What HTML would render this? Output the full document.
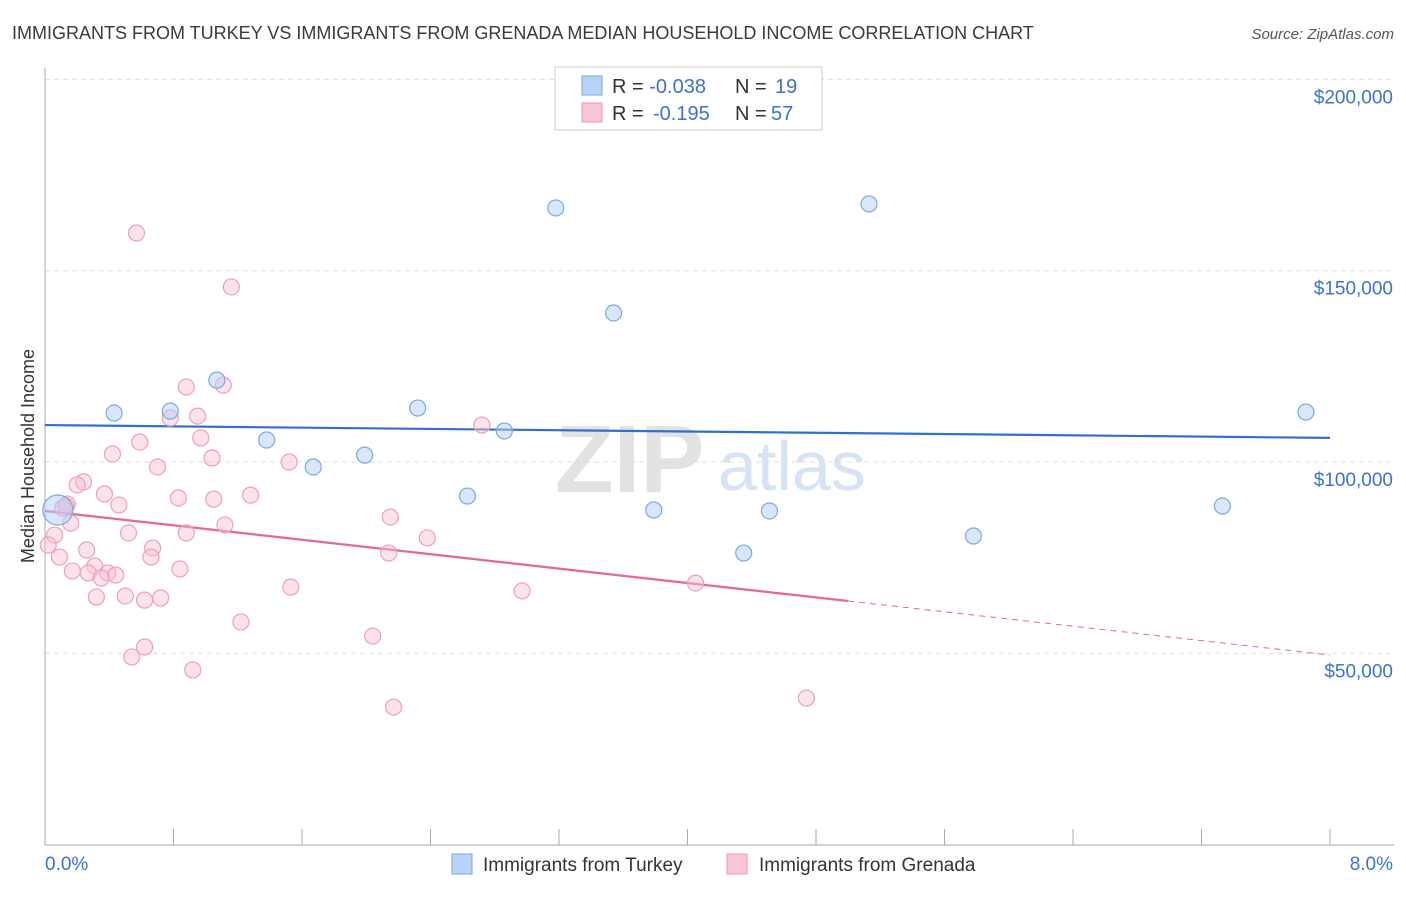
<!DOCTYPE html>
<html><head><meta charset="utf-8"><style>
body{margin:0;background:#fff;font-family:"Liberation Sans",sans-serif;}
svg text{font-family:"Liberation Sans",sans-serif;}
</style></head><body>
<svg id="chart" width="1406" height="892" xmlns="http://www.w3.org/2000/svg">
<text x="12" y="39" font-size="18" fill="#3a3a3a">IMMIGRANTS FROM TURKEY VS IMMIGRANTS FROM GRENADA MEDIAN HOUSEHOLD INCOME CORRELATION CHART</text>
<text x="1394" y="39" font-size="15" fill="#555" text-anchor="end" font-style="italic">Source: ZipAtlas.com</text>
<g>
<text x="555" y="492" font-size="96" fill="#e2e2e2" font-family="Liberation Serif" font-weight="bold">ZIP</text>
<text x="718" y="490" font-size="70" fill="#d6e3f3">atlas</text>
</g>
<g id="grid"></g>
<g id="axes"></g>
<g id="trend"></g>
<g id="pts"></g>
<text transform="translate(34,456) rotate(-90)" font-size="18" fill="#333" text-anchor="middle">Median Household Income</text>
<g>
<rect x="555" y="67" width="267" height="63" fill="#fff" stroke="#ccc"/>
<rect x="582" y="76" width="20" height="19" fill="#b8d3f5" stroke="#7aa6e0"/>
<rect x="582" y="103" width="20" height="19" fill="#f9c6d6" stroke="#ec95b2"/>
<text x="612" y="93" font-size="20" fill="#333">R = <tspan fill="#3b73cc">-0.038</tspan><tspan x="735">N = </tspan><tspan x="775" fill="#3b73cc">19</tspan></text>
<text x="612" y="120" font-size="20" fill="#333">R = <tspan x="653" fill="#3b73cc">-0.195</tspan><tspan x="735">N = </tspan><tspan x="771" fill="#3b73cc">57</tspan></text>
</g>
<g>
<rect x="452" y="854" width="20" height="20" fill="#b8d3f5" stroke="#7aa6e0"/>
<text x="483" y="871" font-size="19" fill="#333">Immigrants from Turkey</text>
<rect x="727" y="854" width="20" height="20" fill="#f9c6d6" stroke="#ec95b2"/>
<text x="759" y="871" font-size="19" fill="#333">Immigrants from Grenada</text>
</g>
</svg>
<script>
const yTicks=[50000,100000,150000,200000];
const yTickLabels=["$50,000","$100,000","$150,000","$200,000"];
const xEndLabels=["0.0%","8.0%"];
const turkeyX=[0.08,0.43,0.78,1.07,1.38,1.67,1.99,2.32,2.63,2.86,3.18,3.54,3.79,4.35,4.51,5.13,5.78,7.33,7.85];
const turkeyY=[87450,112800,113300,121400,105750,98700,101800,114100,91100,108100,166400,138950,87450,76200,87200,167450,80650,88500,113050];
const grenadaX=[0.57,1.16,0.88,1.11,0.78,0.95,0.97,0.59,0.42,1.04,1.52,0.70,0.24,0.20,0.37,0.83,1.05,1.28,0.46,0.14,0.11,0.16,1.12,0.52,0.88,2.15,2.38,0.06,0.02,0.26,0.67,0.09,0.66,2.14,0.84,0.17,0.31,0.27,0.39,0.44,0.35,1.53,2.97,4.05,0.32,0.50,0.62,0.72,1.22,2.04,0.62,0.54,0.92,2.17,4.74,2.72,0.13];
const grenadaY=[159850,145750,119600,120100,111500,112000,106300,105200,102100,101050,100000,98700,94800,94000,91650,90600,90300,91350,88750,89000,87950,84050,83550,81450,81450,85600,80150,80900,78300,77000,77500,75150,75150,76200,72050,71500,72800,71000,71000,70450,69700,67300,66300,68350,64700,64950,63900,64450,58200,54500,51650,49050,45650,35950,38300,109650,88500];
const turkeyTrend=[109650,106300];
const grenadaTrend=[87200,49550];
const grenadaSolidEnd=5.0;
const X=v=>45+v*1285/8;
const Y=v=>462-(v-100000)*191.3/50000;
const NS="http://www.w3.org/2000/svg";
function mk(tag,attrs,parent){const e=document.createElementNS(NS,tag);for(const k in attrs)e.setAttribute(k,attrs[k]);document.getElementById(parent).appendChild(e);return e;}
yTicks.forEach((t,i)=>{
 const l=mk('line',{x1:45,x2:1394,y1:Y(t),y2:Y(t),stroke:'#ddd','stroke-dasharray':'5,4'},'grid');
 
 
 const tx=mk('text',{x:1393,y:Y(t)+24,'font-size':19,fill:'#3b73cc','text-anchor':'end'},'grid');
 tx.textContent=yTickLabels[i];
 
 
});
mk('line',{x1:45,x2:45,y1:68,y2:845,stroke:'#aaa'},'axes');
mk('line',{x1:45,x2:1394,y1:845,y2:845,stroke:'#aaa'},'axes');
for(let i=0;i<=10;i++){
 const t=mk('line',{x1:X(i*0.8),x2:X(i*0.8),y1:829,y2:845,stroke:'#aaa'},'axes');
 
 
}
[[0,45,'start'],[1,1393,'end']].forEach(([i,x,a])=>{
 const t=mk('text',{x:x,y:870,'font-size':19,fill:'#3b73cc','text-anchor':a},'axes');
 t.textContent=xEndLabels[i];
 
 
});
const bl=mk('line',{x1:X(0),x2:X(8),y1:Y(turkeyTrend[0]),y2:Y(turkeyTrend[1]),stroke:'#2f6fd0','stroke-width':2.2},'trend');


const gy=v=>grenadaTrend[0]+(grenadaTrend[1]-grenadaTrend[0])*v/8;
const pl=mk('line',{x1:X(0),x2:X(grenadaSolidEnd),y1:Y(gy(0)),y2:Y(gy(grenadaSolidEnd)),stroke:'#e4688f','stroke-width':2.2},'trend');


const pd=mk('line',{x1:X(grenadaSolidEnd),x2:X(8),y1:Y(gy(grenadaSolidEnd)),y2:Y(gy(8)),stroke:'#e4688f','stroke-width':1,'stroke-dasharray':'6,5'},'trend');


grenadaX.forEach((x,i)=>{
 const c=mk('circle',{cx:X(x),cy:Y(grenadaY[i]),r:8,fill:'rgba(248,190,210,0.45)',stroke:'#eda0b9','stroke-width':1.2},'pts');
 
 
});
turkeyX.forEach((x,i)=>{
 const c=mk('circle',{cx:X(x),cy:Y(turkeyY[i]),r:i===0?15:8,fill:'rgba(180,208,245,0.5)',stroke:'#7ea8de','stroke-width':1.2},'pts');
 
 
});
</script>
</body></html>
